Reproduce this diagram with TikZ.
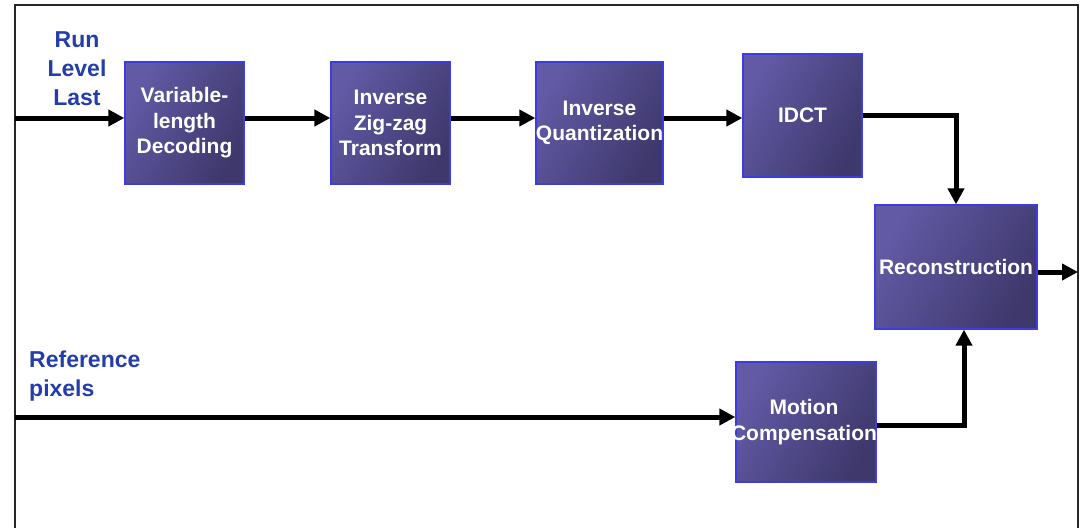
\documentclass[tikz,border=0pt]{standalone}
\usepackage{fontspec}
\setmainfont{Liberation Sans}
\usetikzlibrary{arrows.meta,calc}

\definecolor{boxlight}{RGB}{98,90,165}
\definecolor{boxdark}{RGB}{62,56,108}
\definecolor{boxedge}{RGB}{60,60,225}
\definecolor{labelblue}{RGB}{35,62,170}

\tikzset{
  stage/.style={draw=boxedge, line width=1.3pt, inner sep=0pt,
    left color=boxlight, right color=boxdark, shading angle=60},
  stagetext/.style={text=white, font=\bfseries\fontsize{21}{25.5}\selectfont,
    align=center, inner sep=0pt},
  sidelabel/.style={text=labelblue, font=\bfseries\fontsize{23}{29}\selectfont,
    inner sep=0pt},
  flow/.style={line width=5pt, -{Triangle[length=16pt,width=16pt]}},
  frameline/.style={line width=2pt, draw=black!85}
}

\begin{document}
\begin{tikzpicture}[x=1pt, y=-1pt]
  \useasboundingbox (0,0) rectangle (1080,528);

  % outer frame (open at the bottom)
  \draw[frameline] (15,528) -- (15,5) -- (1078,5) -- (1078,528);

  % processing stages
  \node[stage, minimum width=119pt, minimum height=122pt] (vld)   at (184.5,123) {};
  \node[stage, minimum width=119pt, minimum height=122pt] (izz)   at (390.5,123) {};
  \node[stage, minimum width=127pt, minimum height=122pt] (iq)    at (599.5,123) {};
  \node[stage, minimum width=119pt, minimum height=123pt] (idct)  at (802.5,115.5) {};
  \node[stage, minimum width=162pt, minimum height=124pt] (recon) at (956,267) {};
  \node[stage, minimum width=140pt, minimum height=120pt] (mc)    at (806,422) {};

  \node[stagetext] (vldt)   at (vld)   {Variable-\\length\\Decoding};
  \node[stagetext] (izzt)   at (izz)   {Inverse\\Zig-zag\\Transform};
  \node[stagetext] (iqt)    at (iq)    {Inverse\\Quantization};
  \node[stagetext] (idctt)  at (idct)  {IDCT};
  \node[stagetext] (recont) at (recon) {Reconstruction};
  \node[stagetext] (mct)    at (804,422) {Motion\\Compensation};

  % input labels
  \node[sidelabel, align=center] (rll) at (77,69) {Run\\Level\\Last};
  \node[sidelabel, align=left, anchor=west] (refpx) at (29,376) {Reference\\pixels};

  % connector end points
  \coordinate (in1)  at (15,118);
  \coordinate (in2)  at (15,417);
  \coordinate (out1) at (1078,272);

  % data flow
  \draw[flow] (in1) -- (in1 -| vld.west);
  \draw[flow] (vld.east |- in1) -- (izz.west |- in1);
  \draw[flow] (izz.east |- in1) -- (iq.west |- in1);
  \draw[flow] (iq.east |- in1) -- (idct.west |- in1);
  \draw[flow] (idct.east) -| (recon.north);
  \draw[flow] (recon.east |- out1) -- (out1);
  \draw[flow] (in2) -- (in2 -| mc.west);
  \draw[flow] ($(mc.east)+(0,3)$) -| ($(recon.south)+(8,0)$);
\end{tikzpicture}
\end{document}
